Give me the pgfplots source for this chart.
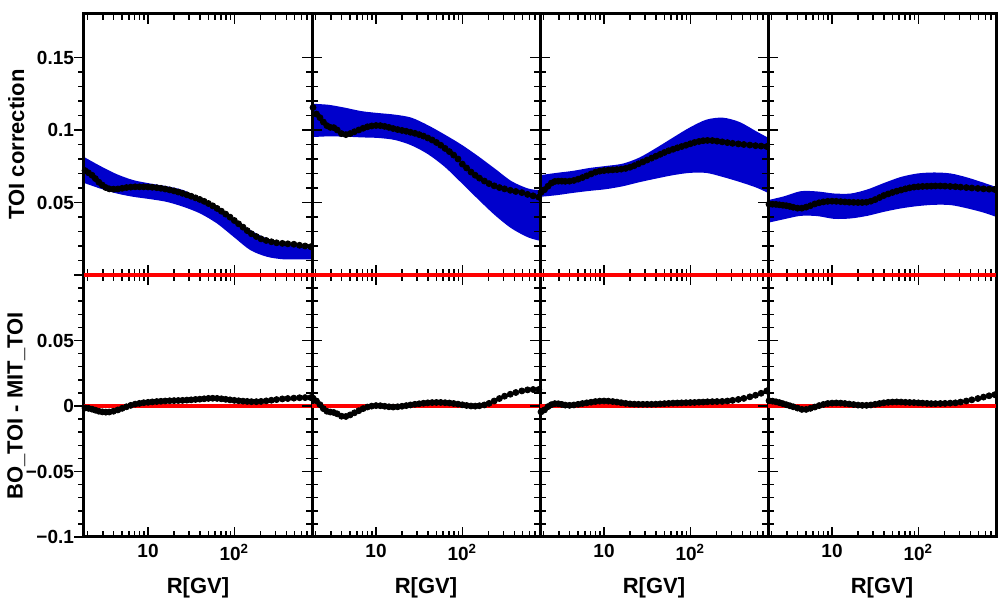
\documentclass[border=0pt]{standalone}
\usepackage{fontspec}
\setmainfont{Liberation Sans}
\usepackage{pgfplots}
\usepackage{pgfplotstable}
\usepgfplotslibrary{fillbetween}
\pgfplotsset{compat=1.18}

\definecolor{bandblue}{RGB}{0,0,204}
\definecolor{rootred}{RGB}{255,0,0}

% TOI correction, one column per panel
\pgfplotstableread{
R c1 c2 c3 c4
1.86 0.0720 0.1155 0.0570 0.0488
2.04 0.0705 0.1110 0.0588 0.0488
2.24 0.0688 0.1085 0.0612 0.0487
2.45 0.0665 0.1055 0.0634 0.0484
2.69 0.0640 0.1030 0.0645 0.0481
2.95 0.0620 0.1018 0.0647 0.0478
3.24 0.0603 0.1016 0.0647 0.0473
3.55 0.0594 0.1000 0.0646 0.0467
3.98 0.0592 0.0975 0.0647 0.0461
4.47 0.0593 0.0968 0.0652 0.0461
5.01 0.0598 0.0975 0.0661 0.0468
5.62 0.0603 0.0988 0.0672 0.0478
6.31 0.0606 0.1000 0.0684 0.0490
7.08 0.0608 0.1012 0.0697 0.0498
7.94 0.0608 0.1022 0.0709 0.0504
8.91 0.0608 0.1028 0.0716 0.0508
10.0 0.0607 0.1031 0.0720 0.0509
11.2 0.0605 0.1030 0.0723 0.0508
12.6 0.0602 0.1025 0.0725 0.0506
14.1 0.0598 0.1018 0.0727 0.0504
15.8 0.0593 0.1010 0.0730 0.0502
17.8 0.0587 0.1003 0.0735 0.0501
20.0 0.0580 0.0997 0.0743 0.0500
22.4 0.0572 0.0991 0.0754 0.0500
25.1 0.0563 0.0984 0.0767 0.0502
28.2 0.0553 0.0977 0.0780 0.0509
31.6 0.0543 0.0968 0.0793 0.0520
35.5 0.0532 0.0958 0.0806 0.0534
39.8 0.0521 0.0945 0.0819 0.0548
44.7 0.0508 0.0931 0.0832 0.0559
50.1 0.0493 0.0914 0.0845 0.0569
56.2 0.0477 0.0895 0.0857 0.0578
63.1 0.0459 0.0873 0.0867 0.0586
70.8 0.0440 0.0851 0.0877 0.0594
79.4 0.0420 0.0827 0.0886 0.0601
89.1 0.0399 0.0800 0.0895 0.0606
100 0.0376 0.0765 0.0905 0.0609
112 0.0353 0.0738 0.0914 0.0611
126 0.0330 0.0710 0.0921 0.0612
141 0.0306 0.0688 0.0926 0.0613
158 0.0284 0.0668 0.0928 0.0614
180 0.0265 0.0648 0.0927 0.0614
204 0.0249 0.0630 0.0923 0.0613
234 0.0238 0.0615 0.0918 0.0611
269 0.0229 0.0603 0.0913 0.0609
309 0.0222 0.0594 0.0908 0.0606
360 0.0218 0.0584 0.0904 0.0603
417 0.0215 0.0576 0.0900 0.0600
490 0.0212 0.0568 0.0896 0.0597
570 0.0205 0.0556 0.0892 0.0594
661 0.0200 0.0546 0.0889 0.0592
769 0.0195 0.0537 0.0886 0.0590
}\upperdata

% BO_TOI - MIT_TOI
\pgfplotstableread{
R d1 d2 d3 d4
1.86 -0.0015 0.0060 -0.0045 0.0040
2.04 -0.0018 0.0038 -0.0030 0.0037
2.24 -0.0024 0.0010 -0.0005 0.0032
2.45 -0.0032 -0.0020 0.0010 0.0026
2.69 -0.0040 -0.0040 0.0018 0.0018
2.95 -0.0045 -0.0046 0.0017 0.0010
3.24 -0.0047 -0.0050 0.0012 0.0002
3.55 -0.0046 -0.0060 0.0007 -0.0006
3.98 -0.0040 -0.0078 0.0005 -0.0016
4.47 -0.0030 -0.0080 0.0008 -0.0026
5.01 -0.0018 -0.0068 0.0013 -0.0026
5.62 -0.0006 -0.0052 0.0019 -0.0018
6.31 0.0005 -0.0036 0.0024 -0.0008
7.08 0.0014 -0.0020 0.0029 0.0003
7.94 0.0020 -0.0008 0.0034 0.0012
8.91 0.0025 -0.0001 0.0037 0.0019
10.0 0.0028 0.0003 0.0038 0.0022
11.2 0.0031 0.0002 0.0037 0.0023
12.6 0.0034 -0.0002 0.0034 0.0022
14.1 0.0036 -0.0006 0.0030 0.0019
15.8 0.0038 -0.0008 0.0025 0.0015
17.8 0.0040 -0.0006 0.0020 0.0011
20.0 0.0041 -0.0002 0.0016 0.0007
22.4 0.0042 0.0003 0.0014 0.0005
25.1 0.0043 0.0008 0.0013 0.0005
28.2 0.0045 0.0013 0.0013 0.0008
31.6 0.0047 0.0017 0.0013 0.0013
35.5 0.0050 0.0021 0.0013 0.0019
39.8 0.0052 0.0024 0.0014 0.0024
44.7 0.0055 0.0026 0.0016 0.0028
50.1 0.0058 0.0027 0.0018 0.0030
56.2 0.0059 0.0027 0.0020 0.0031
63.1 0.0058 0.0025 0.0022 0.0030
70.8 0.0055 0.0023 0.0023 0.0028
79.4 0.0051 0.0019 0.0024 0.0027
89.1 0.0047 0.0014 0.0025 0.0026
100 0.0043 0.0009 0.0026 0.0024
112 0.0040 0.0004 0.0027 0.0022
126 0.0037 0.0000 0.0029 0.0020
141 0.0035 -0.0001 0.0030 0.0018
158 0.0033 0.0002 0.0032 0.0018
180 0.0033 0.0008 0.0033 0.0019
204 0.0035 0.0020 0.0034 0.0020
234 0.0039 0.0038 0.0035 0.0022
269 0.0044 0.0057 0.0038 0.0024
309 0.0049 0.0075 0.0043 0.0030
360 0.0054 0.0090 0.0050 0.0038
417 0.0057 0.0103 0.0058 0.0047
490 0.0060 0.0115 0.0070 0.0057
570 0.0063 0.0123 0.0082 0.0068
661 0.0064 0.0126 0.0097 0.0078
769 0.0064 0.0126 0.0115 0.0086
}\lowerdata

% error band edges
\pgfplotstableread{
R hi1 lo1 hi2 lo2 hi3 lo3 hi4 lo4
1.81 0.0814 0.0635 0.1181 0.0951 0.0688 0.0539 0.0516 0.0360
2.79 0.0752 0.0596 0.1174 0.0956 0.0704 0.0550 0.0543 0.0385
4.35 0.0695 0.0562 0.1154 0.0954 0.0718 0.0566 0.0578 0.0408
6.78 0.0654 0.0539 0.1130 0.0949 0.0738 0.0580 0.0576 0.0406
10.6 0.0631 0.0523 0.1117 0.0945 0.0752 0.0592 0.0562 0.0387
16.5 0.0612 0.0504 0.1106 0.0931 0.0768 0.0612 0.0562 0.0390
25.7 0.0585 0.0470 0.1085 0.0894 0.0810 0.0640 0.0590 0.0408
40.2 0.0528 0.0424 0.1032 0.0832 0.0876 0.0665 0.0635 0.0436
62.7 0.0470 0.0356 0.0968 0.0745 0.0947 0.0688 0.0676 0.0459
97.7 0.0390 0.0264 0.0899 0.0635 0.1016 0.0704 0.0700 0.0475
153 0.0310 0.0172 0.0819 0.0521 0.1071 0.0704 0.0707 0.0484
238 0.0252 0.0126 0.0734 0.0413 0.1085 0.0676 0.0700 0.0482
372 0.0218 0.0108 0.0647 0.0321 0.1055 0.0642 0.0672 0.0459
581 0.0195 0.0108 0.0596 0.0259 0.0991 0.0603 0.0635 0.0429
795 0.0177 0.0108 0.0585 0.0236 0.0947 0.0566 0.0607 0.0401
}\banddata

\pgfplotsset{
  toipanel/.style={
    scale only axis, width=114pt,
    xmin=1.81, xmax=795,
    xtick={10,100},
    minor xtick={2,3,...,9,20,30,...,90,200,300,...,700},
    xticklabels={},
    axis line style={line width=1.5pt},
    tick style={black, line width=0.75pt},
    major tick length=5pt, minor tick length=2.8pt,
    xtick pos=both, ytick pos=both,
    xtick align=inside, ytick align=outside,
    minor y tick num=4,
    clip=false,
    tick label style={font=\fontsize{9.5}{11}\selectfont\bfseries},
    yticklabel style={xshift=3.5pt},
    label style={font=\fontsize{11}{13}\selectfont\bfseries},
    ylabel style={at={(axis description cs:-0.297,0.5)}, anchor=center},
    xlabel style={at={(axis description cs:0.5,-0.195)}, anchor=center},
  },
  toidots/.style={only marks, mark=*, mark size=1.5pt, black},
}

\newcommand{\lowerpanel}[3]{%
  \begin{semilogxaxis}[toipanel, height=131pt, at={(#1,0pt)},
      ymin=-0.1, ymax=0.1, ytick={-0.1,-0.05,0,0.05,0.1}, yticklabels={},
      xticklabels={10,10\textsuperscript{2}}, xlabel={R[GV]}, #3]
    \addplot[rootred, line width=2pt] coordinates {(1.81,0) (795,0)};
    \addplot[toidots] table[x=R, y=d#2] {\lowerdata};
  \end{semilogxaxis}}

\newcommand{\upperpanel}[3]{%
  \begin{semilogxaxis}[toipanel, height=130.5pt, at={(#1,131pt)},
      ymin=0, ymax=0.18, ytick={0,0.05,0.1,0.15}, yticklabels={}, #3]
    \addplot[name path=hi, draw=none, smooth] table[x=R, y=hi#2] {\banddata};
    \addplot[name path=lo, draw=none, smooth] table[x=R, y=lo#2] {\banddata};
    \addplot[fill=bandblue, draw=none] fill between[of=hi and lo, on layer=axis background];
    \addplot[rootred, line width=2pt] coordinates {(1.81,0) (795,0)};
    \addplot[toidots] table[x=R, y=c#2] {\upperdata};
  \end{semilogxaxis}}

\begin{document}
\begin{tikzpicture}
\lowerpanel{0pt}{1}{ylabel={BO\_TOI - MIT\_TOI}, yticklabels={−0.1,−0.05,0,0.05,}}
\lowerpanel{114pt}{2}{}
\lowerpanel{228pt}{3}{}
\lowerpanel{342pt}{4}{ytick pos=left}
\upperpanel{0pt}{1}{ylabel={TOI correction}, yticklabels={,0.05,0.1,0.15}}
\upperpanel{114pt}{2}{}
\upperpanel{228pt}{3}{}
\upperpanel{342pt}{4}{ytick pos=left}
\pgfresetboundingbox
\path[use as bounding box] (-42pt,-31pt) rectangle (457pt,268.5pt);
\end{tikzpicture}
\end{document}
